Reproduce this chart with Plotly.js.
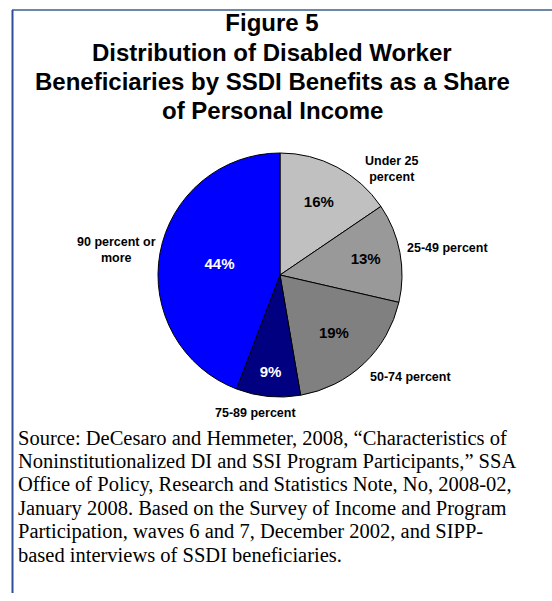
<!DOCTYPE html>
<html>
<head>
<meta charset="utf-8">
<script src="https://cdn.plot.ly/plotly-3.0.1.min.js"></script>
<style>
  html, body { margin: 0; padding: 0; background: #ffffff; }
  #chart { width: 552px; height: 601px; }
</style>
</head>
<body>
<div id="chart"></div>
<script>
// ---- data ----
var categories = ["Under 25 percent", "25-49 percent", "50-74 percent", "75-89 percent", "90 percent or more"];
var categoryLabels = ["Under 25<br>percent", "25-49 percent", "50-74 percent", "75-89 percent", "90 percent or<br>more"];
var shares = [15.5, 13.1, 18.7, 8.5, 44.2];
var shareLabels = ["16%", "13%", "19%", "9%", "44%"];
var sliceColors = ["#C0C0C0", "#999999", "#808080", "#000080", "#0000FF"];
var insideTextColors = ["#000000", "#000000", "#000000", "#FFFFFF", "#FFFFFF"];
var titleLines = ["Figure 5", "Distribution of Disabled Worker", "Beneficiaries by SSDI Benefits as a Share", "of Personal Income"];
var sourceLines = [
  "Source: DeCesaro and Hemmeter, 2008, \u201cCharacteristics of",
  "Noninstitutionalized DI and SSI Program Participants,\u201d SSA",
  "Office of Policy, Research and Statistics Note, No, 2008-02,",
  "January 2008. Based on the Survey of Income and Program",
  "Participation, waves 6 and 7, December 2002, and SIPP-",
  "based interviews of SSDI beneficiaries."
];

// ---- layout helpers (pixel -> paper) ----
var W = 552, H = 601;
function px(x) { return x / W; }
function py(y) { return 1 - y / H; }

var cx = 280, cy = 275, R = 122;
var sansBold = "Arial, 'Liberation Sans', sans-serif";

var trace = {
  type: "pie",
  labels: categories,
  values: shares,
  text: shareLabels,
  textinfo: "text",
  textposition: "inside",
  insidetextorientation: "horizontal",
  insidetextfont: { family: sansBold, size: 15, color: insideTextColors, weight: "bold" },
  marker: { colors: sliceColors, line: { color: "#000000", width: 1 } },
  sort: false,
  direction: "clockwise",
  rotation: 0,
  hoverinfo: "label+text",
  showlegend: false,
  domain: { x: [px(cx - R), px(cx + R)], y: [py(cy + R), py(cy - R)] }
};

var annotations = [];
var titleX = 272;
var titleY = [23, 52, 81, 110];
titleLines.forEach(function (t, i) {
  if (i === 0) return;
  annotations.push({
    xref: "paper", yref: "paper", x: px(titleX), y: py(titleY[i]),
    xanchor: "center", yanchor: "middle", showarrow: false, text: "<b>" + t + "</b>",
    font: { family: sansBold, size: 24, color: "#000000" }
  });
});

var labelPos = [[392, 169], [447, 248], [410, 377], [255, 413], [116, 250]];
categoryLabels.forEach(function (t, i) {
  annotations.push({
    xref: "paper", yref: "paper", x: px(labelPos[i][0]), y: py(labelPos[i][1]),
    xanchor: "center", yanchor: "middle", showarrow: false, text: "<b>" + t + "</b>",
    font: { family: sansBold, size: 12.5, color: "#000000" }
  });
});

var srcY0 = 438, srcStep = 23.4;
sourceLines.forEach(function (t, i) {
  annotations.push({
    xref: "paper", yref: "paper", x: px(16), y: py(srcY0 + i * srcStep),
    xanchor: "left", yanchor: "middle", showarrow: false, text: t,
    font: { family: "'Liberation Serif', 'Times New Roman', serif", size: 20.5, color: "#000000" }
  });
});

var layout = {
  width: W, height: H,
  margin: { l: 0, r: 0, t: 0, b: 0 },
  paper_bgcolor: "#FFFFFF",
  title: {
    text: "<b>" + titleLines[0] + "</b>",
    x: px(titleX), xanchor: "center", xref: "paper",
    y: py(titleY[0]), yanchor: "middle", yref: "container",
    font: { family: sansBold, size: 24, color: "#000000" }
  },
  annotations: annotations,
  shapes: [
    { type: "line", xref: "paper", yref: "paper", x0: px(12), x1: 1, y0: py(10), y1: py(10),
      line: { color: "#6F86A6", width: 2 } },
    { type: "line", xref: "paper", yref: "paper", x0: px(12.5), x1: px(12.5), y0: py(10), y1: py(593),
      line: { color: "#2E4E9C", width: 2 } }
  ]
};

Plotly.newPlot("chart", [trace], layout, { displayModeBar: false, staticPlot: true });
</script>
</body>
</html>
